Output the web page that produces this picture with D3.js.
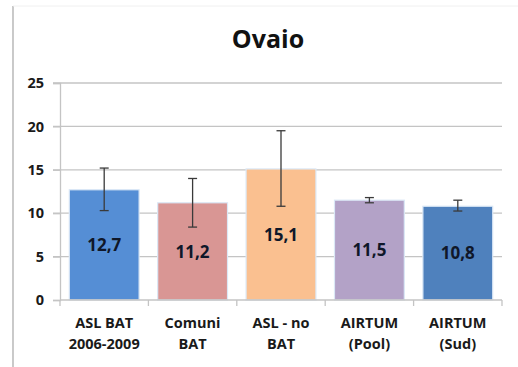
<!DOCTYPE html>
<html><head><meta charset="utf-8">
<script src="https://cdn.jsdelivr.net/npm/d3@7"></script>
<style>
html,body{margin:0;padding:0;background:#fff;}
svg{display:block;font-family:"Open Sans",sans-serif;}
</style></head>
<body>
<svg id="c" width="518" height="367"></svg>
<script>
const title = "Ovaio";
const categories = [["ASL BAT","2006-2009"],["Comuni","BAT"],["ASL - no","BAT"],["AIRTUM","(Pool)"],["AIRTUM","(Sud)"]];
const values = [12.7, 11.2, 15.1, 11.5, 10.8];
const valueLabels = ["12,7","11,2","15,1","11,5","10,8"];
const errLow = [10.3, 8.4, 10.8, 11.2, 10.25];
const errHigh = [15.2, 14.0, 19.5, 11.8, 11.5];
const yTicks = [0,5,10,15,20,25];
const colors = ["#558ED5","#D99694","#FAC090","#B3A2C7","#4F81BD"];

const svg = d3.select("#c");
const pL = 60, pR = 502, pT = 83, pB = 300;

// border
svg.append("line").attr("x1",13).attr("x2",13).attr("y1",6).attr("y2",367).attr("stroke","#a6a6a6").attr("stroke-width",1.2);
svg.append("line").attr("x1",13).attr("x2",518).attr("y1",6).attr("y2",6).attr("stroke","#f0f0f0").attr("stroke-width",1);

const x = d3.scaleBand().domain(d3.range(values.length)).range([pL,pR]).paddingInner(0.21).paddingOuter(0.105);
const y = d3.scaleLinear().domain([0,25]).range([pB,pT]);

// gridlines
svg.append("g").selectAll("line").data(yTicks.filter(d=>d>0)).join("line")
  .attr("x1",pL-7).attr("x2",pR).attr("y1",d=>y(d)).attr("y2",d=>y(d))
  .attr("stroke","#c4c4c4").attr("stroke-width",1.3);

// y axis
const ya = svg.append("g").attr("transform",`translate(${pL},0)`)
  .call(d3.axisLeft(y).tickValues(yTicks).tickSize(7).tickPadding(9));
ya.select(".domain").attr("stroke","#c4c4c4").attr("stroke-width",1.3);
ya.selectAll(".tick line").attr("stroke","#c4c4c4").attr("stroke-width",1.3);
ya.selectAll("text").attr("font-family","Open Sans").attr("font-weight","bold").attr("font-size",14.5).attr("fill","#1a1a1a");

// bars
svg.append("g").selectAll("rect").data(values).join("rect")
  .attr("x",(d,i)=>x(i)).attr("width",x.bandwidth())
  .attr("y",d=>y(d)).attr("height",d=>pB-y(d))
  .attr("fill",(d,i)=>colors[i]).attr("stroke","#dbe8f6").attr("stroke-width",1.2);

// x axis
svg.append("line").attr("x1",pL).attr("x2",pR).attr("y1",pB).attr("y2",pB).attr("stroke","#c4c4c4").attr("stroke-width",1.3);
const bounds = d3.range(values.length+1).map(i=> pL + i*(pR-pL)/values.length);
svg.append("g").selectAll("line").data(bounds).join("line")
  .attr("x1",d=>d).attr("x2",d=>d).attr("y1",pB).attr("y2",pB+6)
  .attr("stroke","#c4c4c4").attr("stroke-width",1.3);

// x labels
const xl = svg.append("g").selectAll("text").data(categories).join("text")
  .attr("x",(d,i)=>x(i)+x.bandwidth()/2).attr("y",328)
  .attr("text-anchor","middle").attr("font-weight","bold").attr("font-size",14.5).attr("fill","#1a1a1a");
xl.each(function(d){
  const t = d3.select(this);
  d.forEach((s,k)=> t.append("tspan").attr("x",t.attr("x")).attr("dy",k===0?0:21).text(s));
});

// error bars
const eg = svg.append("g").attr("stroke","#3a3a3a").attr("stroke-width",1.3);
values.forEach((v,i)=>{
  const cx = x(i)+x.bandwidth()/2;
  eg.append("line").attr("x1",cx).attr("x2",cx).attr("y1",y(errLow[i])).attr("y2",y(errHigh[i]));
  eg.append("line").attr("x1",cx-4.5).attr("x2",cx+4.5).attr("y1",y(errLow[i])).attr("y2",y(errLow[i]));
  eg.append("line").attr("x1",cx-4.5).attr("x2",cx+4.5).attr("y1",y(errHigh[i])).attr("y2",y(errHigh[i]));
});

// value labels
svg.append("g").selectAll("text").data(values).join("text")
  .attr("x",(d,i)=>x(i)+x.bandwidth()/2).attr("y",d=>(y(d)+pB)/2)
  .attr("dy","0.36em").attr("text-anchor","middle")
  .attr("font-weight","bold").attr("font-size",17).attr("fill","#0f1729")
  .text((d,i)=>valueLabels[i]);

// title
svg.append("text").attr("x",268).attr("y",48).attr("text-anchor","middle")
  .attr("font-weight","bold").attr("font-size",25).attr("fill","#111").text(title);
</script>
</body></html>
